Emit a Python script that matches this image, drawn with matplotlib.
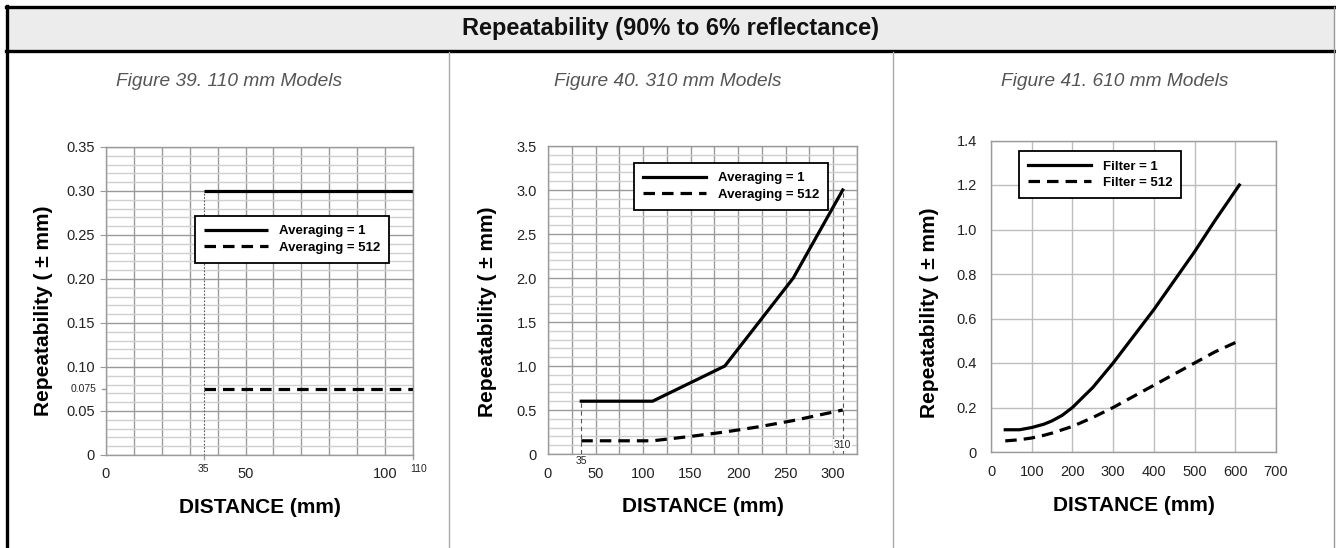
import numpy as np
import matplotlib
matplotlib.use("Agg")
import matplotlib.pyplot as plt
from matplotlib.patches import Rectangle
from matplotlib.lines import Line2D

plt.rcParams['font.family'] = ['Liberation Sans', 'DejaVu Sans']
BOLDF = ['Liberation Sans', 'DejaVu Sans']

# ---- data ----
title = "Repeatability (90% to 6% reflectance)"
subtitles = ["Figure 39. 110 mm Models", "Figure 40. 310 mm Models", "Figure 41. 610 mm Models"]

# 110 mm models
d110 = [35, 110]
avg1_110 = [0.30, 0.30]
avg512_110 = [0.075, 0.075]

# 310 mm models
d310_a1 = [35, 110, 186, 222, 258, 310]
avg1_310 = [0.6, 0.6, 1.0, 1.5, 2.0, 3.0]
d310_a512 = [35, 110, 150, 186, 222, 258, 310]
avg512_310 = [0.15, 0.15, 0.20, 0.25, 0.31, 0.38, 0.50]

# 610 mm models
d610 = [35, 70, 100, 130, 150, 175, 200, 250, 300, 350, 400, 450, 500, 550, 610]
filt1_610 = [0.10, 0.10, 0.11, 0.125, 0.14, 0.165, 0.20, 0.29, 0.40, 0.52, 0.64, 0.77, 0.90, 1.04, 1.20]
filt512_610 = [0.05, 0.055, 0.063, 0.075, 0.085, 0.10, 0.115, 0.155, 0.20, 0.25, 0.30, 0.35, 0.40, 0.45, 0.50]

W, H = 1336, 548
fig = plt.figure(figsize=(W / 100, H / 100), dpi=100)


def px_axes(l, r, t, b):
    return fig.add_axes([l / W, 1 - b / H, (r - l) / W, (b - t) / H])


def fx(x):
    return x / W


def fy(y):
    return 1 - y / H


# frame + header band
fig.patches.append(Rectangle((fx(7), fy(51)), fx(1328), 44 / H, transform=fig.transFigure,
                             facecolor='#ececec', edgecolor='none', zorder=0))
fig.lines.append(Line2D([fx(6), fx(1336)], [fy(7), fy(7)], transform=fig.transFigure, color='black', lw=2.4))
fig.lines.append(Line2D([fx(6), fx(1336)], [fy(51), fy(51)], transform=fig.transFigure, color='black', lw=2.4))
fig.lines.append(Line2D([fx(7), fx(7)], [fy(6), 0], transform=fig.transFigure, color='black', lw=2.4))
fig.lines.append(Line2D([fx(1334), fx(1334)], [fy(7), 0], transform=fig.transFigure, color='#999999', lw=1))
for xd in [449, 893]:
    fig.lines.append(Line2D([fx(xd), fx(xd)], [fy(52), 0], transform=fig.transFigure, color='#aaaaaa', lw=1))

fig.text(fx(671), fy(29), title, ha='center', va='center', fontsize=17, fontweight='bold', color='#111111')
for cx, s in zip([229, 668, 1115], subtitles):
    fig.text(fx(cx), fy(82), s, ha='center', va='center', fontsize=13.8, style='italic', color='#555555')

MAJ = '#9a9a9a'
MIN = '#cfcfcf'
LW = 2.3
DASH = (0, (3.6, 2.2))


def style_axes(ax):
    for sp in ax.spines.values():
        sp.set_color(MAJ)
        sp.set_linewidth(1)
    ax.tick_params(axis='both', which='major', labelsize=10.5, colors='#222222', length=0, pad=9)
    ax.tick_params(axis='y', which='major', length=4, color=MAJ, pad=4)
    ax.tick_params(which='minor', length=0)
    ax.set_axisbelow(True)


def labels(ax, ylx, yly):
    ax.text(0.5, -0.172, "DISTANCE (mm)", transform=ax.transAxes, ha='center', va='center',
            fontsize=15, fontweight='bold', family=BOLDF)
    ax.text(ylx, yly, "Repeatability ( \u00b1 mm)", transform=ax.transAxes, ha='center', va='center',
            rotation=90, fontsize=15, fontweight='bold', family=BOLDF)


def legend(ax, names, x, y):
    leg = ax.legend(names, loc='upper left', bbox_to_anchor=(x, y), frameon=True, fancybox=False,
                    edgecolor='black', framealpha=1, handlelength=4.8, handletextpad=0.85,
                    borderpad=0.7, labelspacing=0.3, borderaxespad=0,
                    prop={'family': BOLDF, 'weight': 'bold', 'size': 9.5})
    leg.get_frame().set_linewidth(1.3)
    return leg


# ---- chart 1: 110 mm ----
ax1 = px_axes(106, 413, 147, 455)
ax1.set_xlim(0, 110)
ax1.set_ylim(0, 0.35)
ax1.set_xticks([0, 50, 100])
ax1.set_xticks(np.arange(0, 111, 10), minor=True)
ax1.set_yticks(np.arange(0, 0.351, 0.05))
ax1.set_yticklabels(["0"] + ["%.2f" % v for v in np.arange(0.05, 0.351, 0.05)])
ax1.set_yticks(np.arange(0, 0.351, 0.01), minor=True)
ax1.grid(axis='x', which='both', color=MAJ, lw=1)
ax1.grid(axis='y', which='minor', color=MIN, lw=1)
ax1.grid(axis='y', which='major', color=MAJ, lw=1)
style_axes(ax1)
ax1.plot(d110, avg1_110, color='black', lw=LW, solid_capstyle='butt')
ax1.plot(d110, avg512_110, color='black', lw=LW, linestyle=DASH)
ax1.plot([d110[0], d110[0]], [0, avg1_110[0]], color='#555555', lw=0.8, linestyle=(0, (1.5, 1.5)))
tr = ax1.get_xaxis_transform()
ax1.text(d110[0], -0.045, "35", transform=tr, ha='center', va='center', fontsize=7.5, color='#222222')
ax1.annotate("110", (d110[1], -0.045), xycoords=tr, xytext=(4, 0), textcoords='offset points',
             ha='center', va='center', fontsize=7.5, color='#222222')
for xv in d110:
    ax1.plot([xv, xv], [0, -0.012], transform=tr, color=MAJ, lw=1, clip_on=False)
ty = ax1.get_yaxis_transform()
ax1.plot([-0.013, 0], [avg512_110[0]] * 2, transform=ty, color=MAJ, lw=1, clip_on=False)
ax1.text(-0.03, avg512_110[0], "0.075", transform=ty, ha='right', va='center', fontsize=7.5, color='#222222')
legend(ax1, ["Averaging = 1", "Averaging = 512"], 0.29, 0.776)
labels(ax1, -0.205, 0.468)

# ---- chart 2: 310 mm ----
ax2 = px_axes(548, 857, 146, 454)
ax2.set_xlim(0, 325)
ax2.set_ylim(0, 3.5)
ax2.set_xticks(np.arange(0, 301, 50))
ax2.set_xticks(np.arange(0, 326, 25), minor=True)
ax2.set_yticks(np.arange(0, 3.51, 0.5))
ax2.set_yticklabels(["0"] + ["%.1f" % v for v in np.arange(0.5, 3.51, 0.5)])
ax2.set_yticks(np.arange(0, 3.51, 0.1), minor=True)
ax2.grid(axis='x', which='both', color=MAJ, lw=1)
ax2.grid(axis='y', which='minor', color=MIN, lw=1)
ax2.grid(axis='y', which='major', color=MAJ, lw=1)
style_axes(ax2)
ax2.tick_params(axis='y', which='major', length=0, pad=8)
ax2.plot(d310_a1, avg1_310, color='black', lw=LW)
ax2.plot(d310_a512, avg512_310, color='black', lw=LW, linestyle=DASH)
ax2.plot([35, 35], [0, avg1_310[0]], color='#555555', lw=0.8, linestyle=(0, (4, 3)))
ax2.plot([310, 310], [0, avg1_310[-1]], color='#555555', lw=0.8, linestyle=(0, (4, 3)))
ax2.text(35, -0.005, "35", transform=ax2.get_xaxis_transform(), ha='center', va='top', fontsize=7.5,
         color='#222222', bbox=dict(facecolor='white', edgecolor='none', pad=0.6), clip_on=False)
ax2.text(310, 0.1, "310", ha='center', va='center', fontsize=7.5, color='#222222',
         bbox=dict(facecolor='white', edgecolor='none', pad=0.6))
legend(ax2, ["Averaging = 1", "Averaging = 512"], 0.278, 0.945)
labels(ax2, -0.195, 0.461)

# ---- chart 3: 610 mm ----
ax3 = px_axes(991, 1276, 140.5, 452)
ax3.set_xlim(0, 700)
ax3.set_ylim(0, 1.4)
ax3.set_xticks(np.arange(0, 701, 100))
ax3.set_yticks(np.arange(0, 1.41, 0.2))
ax3.set_yticklabels(["0"] + ["%.1f" % v for v in np.arange(0.2, 1.41, 0.2)])
ax3.grid(which='major', color='#bdbdbd', lw=1)
style_axes(ax3)
ax3.tick_params(axis='y', which='major', length=0, pad=10)
ax3.plot(d610, filt1_610, color='black', lw=LW)
ax3.plot(d610, filt512_610, color='black', lw=LW, linestyle=DASH)
legend(ax3, ["Filter = 1", "Filter = 512"], 0.098, 0.966)
labels(ax3, -0.215, 0.448)

fig.savefig("out.png", dpi=100)
